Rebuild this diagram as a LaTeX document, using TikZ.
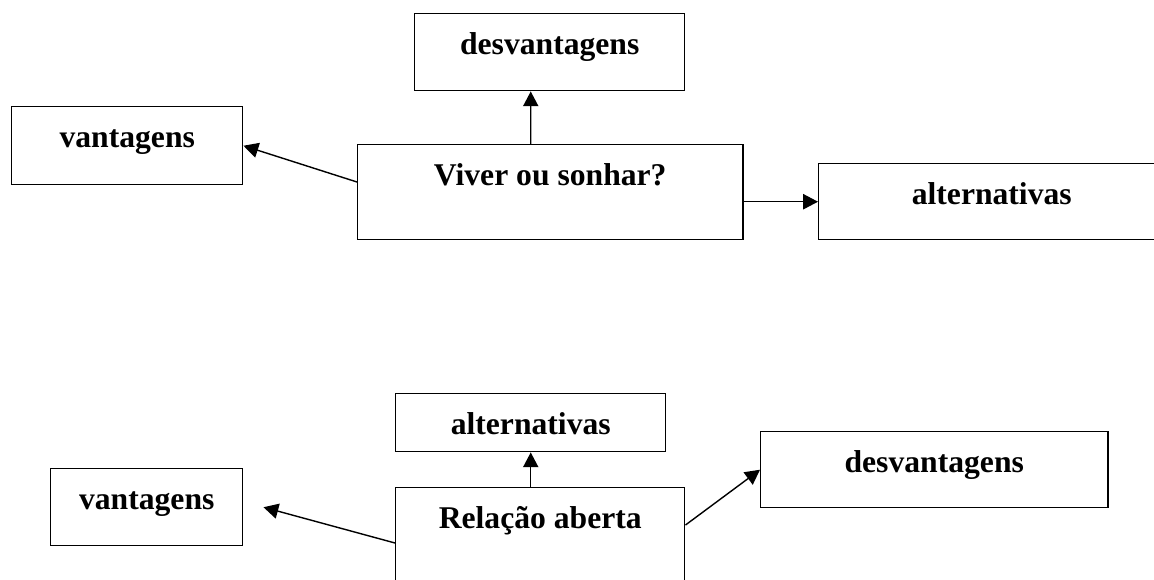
\documentclass[tikz,border=0pt]{standalone}
\usepackage{fontspec}
\setmainfont{Liberation Serif}
\usetikzlibrary{positioning,calc,arrows.meta}

\begin{document}
\begin{tikzpicture}[
      x=0.025cm, y=-0.025cm, line width=1pt,
      font=\fontsize{22.5}{27}\selectfont\bfseries,
      box/.style 2 args={draw, anchor=north west, inner sep=0pt,
        minimum width=#1, text height=1.025cm, text depth=#2},
      link/.style={draw,-{Triangle[length=0.37cm,width=0.38cm]}}
      ]

      \useasboundingbox (0,0) rectangle (1154,579);
      \clip (0,0) rectangle (1154,579);

      % Primeiro esquema
      \node[box={9.625cm}{1.35cm}] (viver) at (357,144) {Viver ou sonhar?};
      \node[box={6.75cm}{0.9cm}] (desv1) at (414,13) {desvantagens};
      \node[box={5.775cm}{0.925cm}] (vant1) at (11,106) {vantagens};
      \node[box={8.65cm}{0.875cm}] (alt1) at (818,163) {alternativas};

      \path[link] ($(viver.north)+(-19.5,0)$) -- ($(desv1.south)+(-19,0)$);
      \path[link] ($(viver.north west)+(0,38)$) -- (vant1.east);
      \path[link] (viver.east |- alt1.west) -- (alt1.west);

      % Segundo esquema
      \node[box={7.225cm}{1.35cm}] (rel) at (395,487) {Relação aberta};
      \node[box={6.75cm}{0.425cm}] (alt2) at (395,393) {alternativas};
      \node[box={4.8cm}{0.9cm}] (vant2) at (50,468) {vantagens};
      \node[box={8.675cm}{0.875cm}] (desv2) at (760,431) {desvantagens};

      \path[link] (rel.north -| alt2.south) -- (alt2.south);
      \path[link] ($(rel.north west)+(0,56)$) -- ($(vant2.east)+(20,0)$);
      \path[link] ($(rel.north east)+(0,38)$) -- (desv2.west);
    \end{tikzpicture}
\end{document}
